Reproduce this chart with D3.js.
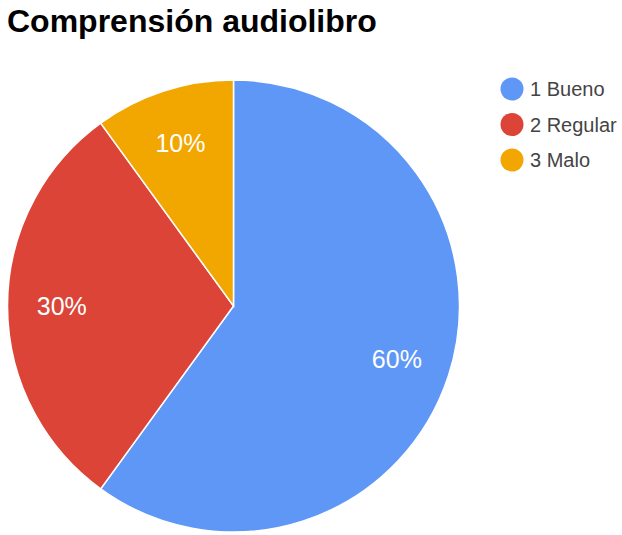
<!DOCTYPE html>
<html>
<head>
<meta charset="utf-8">
<script src="https://cdn.jsdelivr.net/npm/d3@7"></script>
<style>
  html, body { margin: 0; padding: 0; background: #fff; }
  svg { display: block; }
</style>
</head>
<body>
<svg id="chart" width="622" height="535"></svg>
<script>
// Survey answers and their share of responses
const categories = ["1 Bueno", "2 Regular", "3 Malo"];
const values = [60, 30, 10];
const colors = ["#5e97f6", "#db4437", "#f2a600"];
const title = "Comprensión audiolibro";

const svg = d3.select("#chart");
const font = "'Liberation Sans', Arial, sans-serif";

// Title
svg.append("text")
  .attr("x", 7)
  .attr("y", 32)
  .attr("font-family", font)
  .attr("font-size", 32)
  .attr("font-weight", "bold")
  .attr("fill", "#000")
  .text(title);

// Pie
const cx = 233.5, cy = 306, r = 226;
const total = d3.sum(values);
const pie = d3.pie().sort(null).value(d => d)(values);
const arc = d3.arc().innerRadius(0).outerRadius(r);
const labelArc = d3.arc().innerRadius(r * 0.76).outerRadius(r * 0.76);

const g = svg.append("g").attr("transform", `translate(${cx},${cy})`);
g.selectAll("path.slice")
  .data(pie)
  .join("path")
  .attr("class", "slice")
  .attr("d", arc)
  .attr("fill", (d, i) => colors[i])
  .attr("stroke", "#fff")
  .attr("stroke-width", 1.5);

g.selectAll("text.pct")
  .data(pie)
  .join("text")
  .attr("class", "pct")
  .attr("transform", d => `translate(${labelArc.centroid(d)})`)
  .attr("text-anchor", "middle")
  .attr("dy", "0.36em")
  .attr("font-family", font)
  .attr("font-size", 25)
  .attr("fill", "#fff")
  .text(d => Math.round(d.value / total * 100) + "%");

// Legend
const legend = svg.append("g").attr("transform", "translate(512,89)");
const rows = legend.selectAll("g.row")
  .data(categories)
  .join("g")
  .attr("class", "row")
  .attr("transform", (d, i) => `translate(0,${i * 35.5})`);
rows.append("circle")
  .attr("r", 11.5)
  .attr("fill", (d, i) => colors[i]);
rows.append("text")
  .attr("x", 18)
  .attr("dy", "0.36em")
  .attr("font-family", font)
  .attr("font-size", 20)
  .attr("fill", "#444")
  .text(d => d);
</script>
</body>
</html>
